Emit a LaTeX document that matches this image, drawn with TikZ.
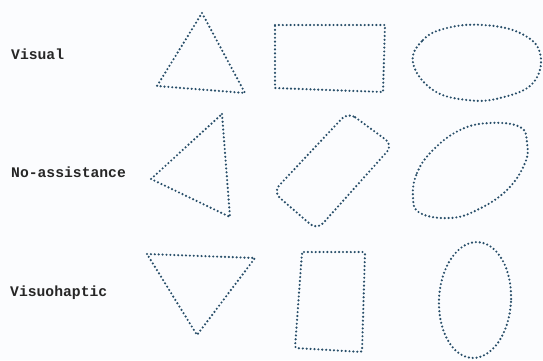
\documentclass[tikz,border=0pt]{standalone}
\usepackage{fontspec}
\setmonofont{Liberation Mono}
\definecolor{dotblue}{RGB}{40,78,105}
\definecolor{paper}{RGB}{251,252,254}
\begin{document}
\begin{tikzpicture}[
    x=1pt, y=-1pt,
    every node/.style={font=\fontsize{14.7}{16}\selectfont\ttfamily\bfseries},
    cond/.style={anchor=base west, inner sep=0pt, text=black!85},
    trace/.style={draw=dotblue, line width=2.4pt, line cap=round, dash pattern=on 0pt off 3.9pt, line join=round},
]
\fill[paper] (0,0) rectangle (543,360);
\useasboundingbox (0,0) rectangle (543,360);
% row labels
\node[cond] (visual) at (11,59) {Visual};
\node[cond] (noassist) at (11,177) {No-assistance};
\node[cond] (visuohap) at (10,296) {Visuohaptic};
% visual
\draw[trace] (202,13) -- (245,93) -- (157,86) -- cycle;
\draw[trace] (275,25) -- (385,25) -- (383,92) -- (275,88) -- cycle;
\draw[trace] plot[smooth cycle, tension=0.7] coordinates {(413,63) (423,40) (447,28) (483,25) (520,33) (540,53) (533,83) (500,98) (467,100) (433,90)};
% no-assistance
\draw[trace] (222,114) -- (230,217) -- (151,179) -- cycle;
\draw[trace, rounded corners=9pt] (348,112) -- (393,145) -- (317,230) -- (273,192) -- cycle;
\draw[trace] plot[smooth cycle, tension=0.7] coordinates {(413,197) (417,173) (433,150) (460,130) (490,123) (520,127) (527,143) (525,163) (507,190) (477,210) (450,218) (420,213)};
% visuohaptic
\draw[trace] (147,254) -- (255,258) -- (197,335) -- cycle;
\draw[trace, rounded corners=2pt] (302,252) -- (365,252) -- (362,352) -- (295,348) -- cycle;
\draw[trace, rotate around={-3:(475,300)}] (475,300) ellipse [x radius=36, y radius=58];
\end{tikzpicture}
\end{document}
